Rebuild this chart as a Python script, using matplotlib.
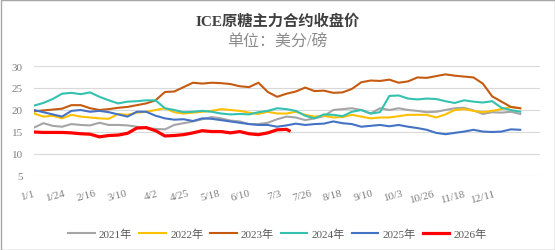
import matplotlib
matplotlib.use("Agg")
import matplotlib.pyplot as plt
from matplotlib.patches import Rectangle

plt.rcParams["font.family"] = ["Liberation Serif", "Noto Sans CJK SC", "DejaVu Sans"]

# day index within a (leap) year, sampled weekly
DAYS = list(range(0, 365, 7))
RED_DAYS = DAYS[:28] + [191]

TICK_POS = list(range(0, 346, 23))
TICK_LABELS = ["1/1", "1/24", "2/16", "3/10", "4/2", "4/25", "5/18", "6/10",
               "7/3", "7/26", "8/18", "9/10", "10/3", "10/26", "11/18", "12/11"]

Y2021 = [16.0, 17.0, 16.4, 16.2, 16.8, 16.6, 16.5, 17.1, 16.6, 16.6, 16.5, 16.2, 15.9, 15.7,
         15.6, 16.6, 17.0, 17.4, 17.9, 18.4, 18.1, 17.6, 17.4, 16.8, 16.8, 17.1, 17.9, 18.5,
         18.3, 17.7, 18.1, 18.6, 20.0, 20.2, 20.4, 20.0, 19.2, 20.4, 20.0, 20.4, 20.0, 19.8,
         19.5, 19.6, 20.0, 20.4, 20.5, 19.9, 19.1, 19.5, 19.4, 19.6, 19.1]
Y2022 = [19.2, 18.5, 18.7, 18.1, 18.9, 18.5, 18.3, 18.1, 18.0, 19.1, 18.9, 19.4, 19.6, 20.0,
         20.4, 19.5, 19.2, 19.4, 19.6, 19.8, 20.2, 20.0, 19.8, 19.4, 19.1, 19.6, 19.2, 19.2,
         19.6, 18.9, 18.5, 18.7, 18.3, 18.4, 18.9, 18.5, 18.1, 18.3, 18.3, 18.6, 18.9, 18.9,
         18.9, 18.3, 19.0, 20.0, 20.2, 19.8, 19.5, 19.8, 20.2, 20.7, 20.4]
Y2023 = [19.7, 19.9, 20.1, 20.3, 21.1, 21.1, 20.4, 20.0, 20.2, 20.5, 20.7, 21.1, 21.5, 22.2,
         24.1, 24.2, 25.2, 26.2, 26.0, 26.2, 26.1, 25.9, 25.4, 25.2, 26.2, 24.1, 23.0, 23.7,
         24.2, 25.1, 24.3, 24.4, 23.9, 24.0, 24.8, 26.3, 26.7, 26.6, 26.9, 26.2, 26.5, 27.4,
         27.3, 27.7, 28.1, 27.8, 27.6, 27.4, 26.0, 23.1, 21.9, 20.7, 20.4]
Y2024 = [21.0, 21.6, 22.5, 23.7, 23.9, 23.6, 24.0, 23.0, 22.2, 21.5, 21.9, 22.0, 22.2, 22.2,
         20.4, 20.0, 19.5, 19.6, 19.8, 19.6, 19.2, 19.0, 19.1, 19.0, 19.5, 19.8, 20.4, 20.2,
         19.8, 18.7, 18.1, 19.0, 18.9, 18.6, 19.6, 20.0, 19.2, 19.5, 23.2, 23.3, 22.6, 22.4,
         22.6, 22.5, 22.0, 21.6, 22.2, 21.9, 21.7, 22.0, 20.5, 20.0, 19.6]
Y2025 = [20.0, 19.5, 19.0, 18.5, 19.8, 20.0, 19.6, 19.8, 19.5, 19.0, 18.5, 19.6, 19.6, 18.7,
         18.1, 17.8, 17.9, 17.5, 18.1, 18.0, 17.7, 17.4, 17.1, 16.8, 16.6, 16.6, 16.2, 16.5,
         16.9, 16.6, 16.8, 16.9, 17.4, 17.0, 16.8, 16.2, 16.4, 16.6, 16.3, 16.6, 16.2, 15.9,
         15.5, 14.8, 14.5, 14.8, 15.1, 15.5, 15.1, 15.0, 15.1, 15.6, 15.5]
Y2026 = [15.0, 14.9, 14.9, 14.9, 14.8, 14.6, 14.5, 13.9, 14.2, 14.3, 14.7, 15.9, 16.0, 15.3,
         14.1, 14.2, 14.4, 14.8, 15.3, 15.1, 15.1, 14.8, 15.1, 14.6, 14.4, 14.8, 15.5, 15.6,
         15.3]

SERIES = [
    ("2021年", DAYS, Y2021, "#A5A5A5", 1.5),
    ("2022年", DAYS, Y2022, "#FFC000", 1.5),
    ("2023年", DAYS, Y2023, "#C55A11", 1.5),
    ("2024年", DAYS, Y2024, "#33C2B0", 1.5),
    ("2025年", DAYS, Y2025, "#4472C4", 1.5),
    ("2026年", RED_DAYS, Y2026, "#FF0000", 2.3),
]

W, H = 555, 251
fig = plt.figure(figsize=(W / 100, H / 100), dpi=100)
ax = fig.add_axes([34 / W, 1 - 177 / H, (540 - 34) / W, (177 - 67) / H])

for name, xs, ys, color, lw in SERIES:
    ax.plot(xs, ys, color=color, linewidth=lw, label=name, solid_joinstyle="round")

ax.set_xlim(0, 378.8)
ax.set_ylim(5, 30)
ax.set_yticks([5, 10, 15, 20, 25, 30])
ax.set_xticks(TICK_POS)
ax.set_xticklabels(TICK_LABELS, rotation=15, ha="right", rotation_mode="anchor")
ax.tick_params(length=0, labelsize=8, labelcolor="#7F7F7F")
ax.tick_params(axis="x", pad=9)
ax.tick_params(axis="y", pad=8)
ax.grid(axis="y", color="#D9D9D9", linewidth=0.8)
ax.set_axisbelow(True)
for spine in ax.spines.values():
    spine.set_visible(False)

fig.text(0.5, 1 - 21 / H, "ICE原糖主力合约收盘价", ha="center", va="center",
         fontsize=11, fontweight="bold", color="#404040")
fig.text(0.5, 1 - 43 / H, "单位：美分/磅", ha="center", va="center",
         fontsize=11.5, color="#8C8C8C")

fig.legend(loc="center", bbox_to_anchor=(0.5, 1 - 235 / H), ncol=6, frameon=False,
           fontsize=8, handlelength=2.4, handletextpad=0.4, columnspacing=0.6,
           labelcolor="#595959")

fig.patches.append(Rectangle((0.5 / W, 0.5 / H), 1 - 1 / W, 1 - 1 / H, transform=fig.transFigure,
                             fill=False, edgecolor="#A6A6A6", linewidth=1))

fig.savefig("out.png", dpi=100)
